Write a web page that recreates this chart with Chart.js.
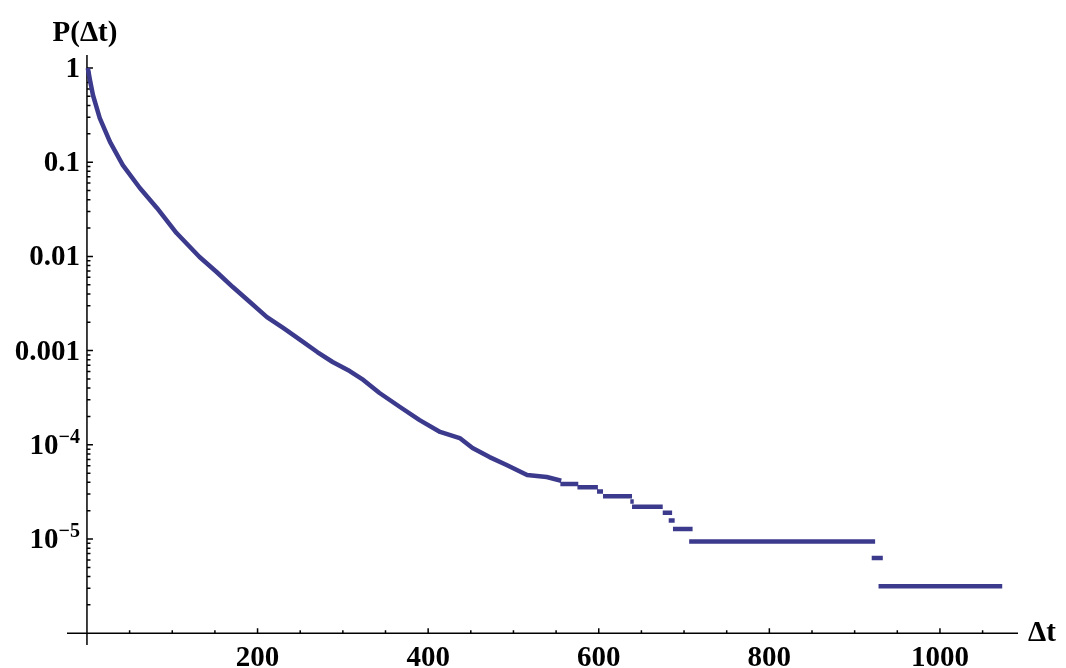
<!DOCTYPE html>
<html>
<head>
<meta charset="utf-8">
<script src="https://cdn.jsdelivr.net/npm/chart.js@4.4.1/dist/chart.umd.min.js"></script>
<style>
  html, body { margin: 0; padding: 0; background: #fff; }
  canvas { display: block; }
</style>
</head>
<body>
<canvas id="chart" width="1066" height="668"></canvas>
<script>
// smooth head of the distribution
const dtValues = [1, 3.5, 7, 15, 27, 42, 62, 82, 105, 132, 152, 171, 191, 211, 230, 250, 270, 288, 308, 324,
  343, 367, 390, 414, 437, 452, 472, 492, 516, 539, 556];
const probValues = [1, 0.746, 0.517, 0.294, 0.164, 0.0933, 0.0532, 0.0327, 0.0177, 0.00986, 0.00683, 0.00473,
  0.00328, 0.00227, 0.00174, 0.0013, 0.000966, 0.000757, 0.000607, 0.000488,
  0.000355, 0.000252, 0.000183, 0.000137, 0.000118, 0.0000925, 0.0000741, 0.0000611, 0.0000478, 0.0000455, 0.0000416];

// flat steps of the tail
const stepFrom  = [555, 575, 598, 605, 637, 639, 675, 682, 687, 706, 920, 928];
const stepTo    = [576, 599, 605, 639, 641, 675, 686, 689, 710, 924, 933, 1073];
const stepLevel = [3.84e-5, 3.55e-5, 3.2e-5, 2.85e-5, 2.5e-5, 2.2e-5, 1.9e-5, 1.57e-5, 1.28e-5, 9.4e-6, 6.3e-6, 3.15e-6];

const xMajorTicks = [200, 400, 600, 800, 1000];
const xMinorTicks = [50, 100, 150, 250, 300, 350, 450, 500, 550, 650, 700, 750, 850, 900, 950, 1050];
const yMajorTicks = [1, 0.1, 0.01, 0.001, 1e-4, 1e-5];
const yTickLabels = ['1', '0.1', '0.01', '0.001', '10|\u22124', '10|\u22125'];

const points = dtValues.map(function (d, i) { return {x: d, y: probValues[i]}; });
for (var i = 0; i < stepFrom.length; i++) {
  points.push({x: stepFrom[i], y: null});
  points.push({x: stepFrom[i], y: stepLevel[i]});
  points.push({x: stepTo[i], y: stepLevel[i]});
}

const yMinorTicks = [];
for (var k = -6; k <= -1; k++) {
  for (var m = 2; m <= 9; m++) yMinorTicks.push(m * Math.pow(10, k));
}

const FONT = '"Liberation Serif", "Times New Roman", serif';

// Mathematica-like axes crossing at (0, 1e-6)
const axesPlugin = {
  id: 'mmaAxes',
  beforeDatasetsDraw: function (chart) {
    const ctx = chart.ctx, area = chart.chartArea;
    const xs = chart.scales.x, ys = chart.scales.y;
    const x0 = xs.getPixelForValue(0);
    const y0 = ys.getPixelForValue(1e-6);
    ctx.save();
    ctx.strokeStyle = '#000';
    ctx.lineWidth = 1.5;
    ctx.beginPath();
    ctx.moveTo(area.left, y0); ctx.lineTo(area.right, y0);
    ctx.moveTo(x0, area.top); ctx.lineTo(x0, area.bottom);
    xMajorTicks.forEach(function (v) { var p = xs.getPixelForValue(v); ctx.moveTo(p, y0); ctx.lineTo(p, y0 - 5); });
    xMinorTicks.forEach(function (v) { var p = xs.getPixelForValue(v); ctx.moveTo(p, y0); ctx.lineTo(p, y0 - 3); });
    yMajorTicks.forEach(function (v) { var p = ys.getPixelForValue(v); ctx.moveTo(x0, p); ctx.lineTo(x0 + 6, p); });
    yMinorTicks.forEach(function (v) { var p = ys.getPixelForValue(v); ctx.moveTo(x0, p); ctx.lineTo(x0 + 3.5, p); });
    ctx.stroke();

    ctx.fillStyle = '#000';
    ctx.textBaseline = 'alphabetic';
    ctx.font = 'bold 29px ' + FONT;
    ctx.textAlign = 'center';
    xMajorTicks.forEach(function (v) { ctx.fillText(String(v), xs.getPixelForValue(v), y0 + 33); });

    const right = x0 - 7;
    yMajorTicks.forEach(function (v, i) {
      var p = ys.getPixelForValue(v);
      var parts = yTickLabels[i].split('|');
      if (parts.length === 1) {
        ctx.font = 'bold 29px ' + FONT;
        ctx.textAlign = 'right';
        ctx.fillText(parts[0], right, p + 9);
      } else {
        ctx.font = 'bold 20px ' + FONT;
        var w = ctx.measureText(parts[1]).width;
        ctx.textAlign = 'right';
        ctx.fillText(parts[1], right, p - 2);
        ctx.font = 'bold 29px ' + FONT;
        ctx.fillText(parts[0], right - w, p + 9);
      }
    });

    ctx.font = 'bold 29px ' + FONT;
    ctx.textAlign = 'center';
    ctx.fillText('P(\u0394t)', x0 - 2, 41);
    ctx.textAlign = 'left';
    ctx.fillText('\u0394t', area.right + 10, y0 + 8);
    ctx.restore();
  }
};

new Chart(document.getElementById('chart'), {
  type: 'line',
  data: {
    datasets: [{
      data: points,
      borderColor: 'rgb(60, 58, 140)',
      borderWidth: 4.5,
      borderCapStyle: 'butt',
      borderJoinStyle: 'round',
      pointRadius: 0,
      tension: 0,
      fill: false,
      spanGaps: false
    }]
  },
  options: {
    responsive: false,
    animation: false,
    devicePixelRatio: 1,
    events: [],
    layout: { padding: { left: 67, right: 48, top: 55, bottom: 23 } },
    plugins: { legend: { display: false }, tooltip: { enabled: false } },
    scales: {
      x: { type: 'linear', display: false, min: -23.4, max: 1091.5 },
      y: { type: 'logarithmic', display: false, min: 7.5e-7, max: 1.374 }
    }
  },
  plugins: [axesPlugin]
});
</script>
</body>
</html>
